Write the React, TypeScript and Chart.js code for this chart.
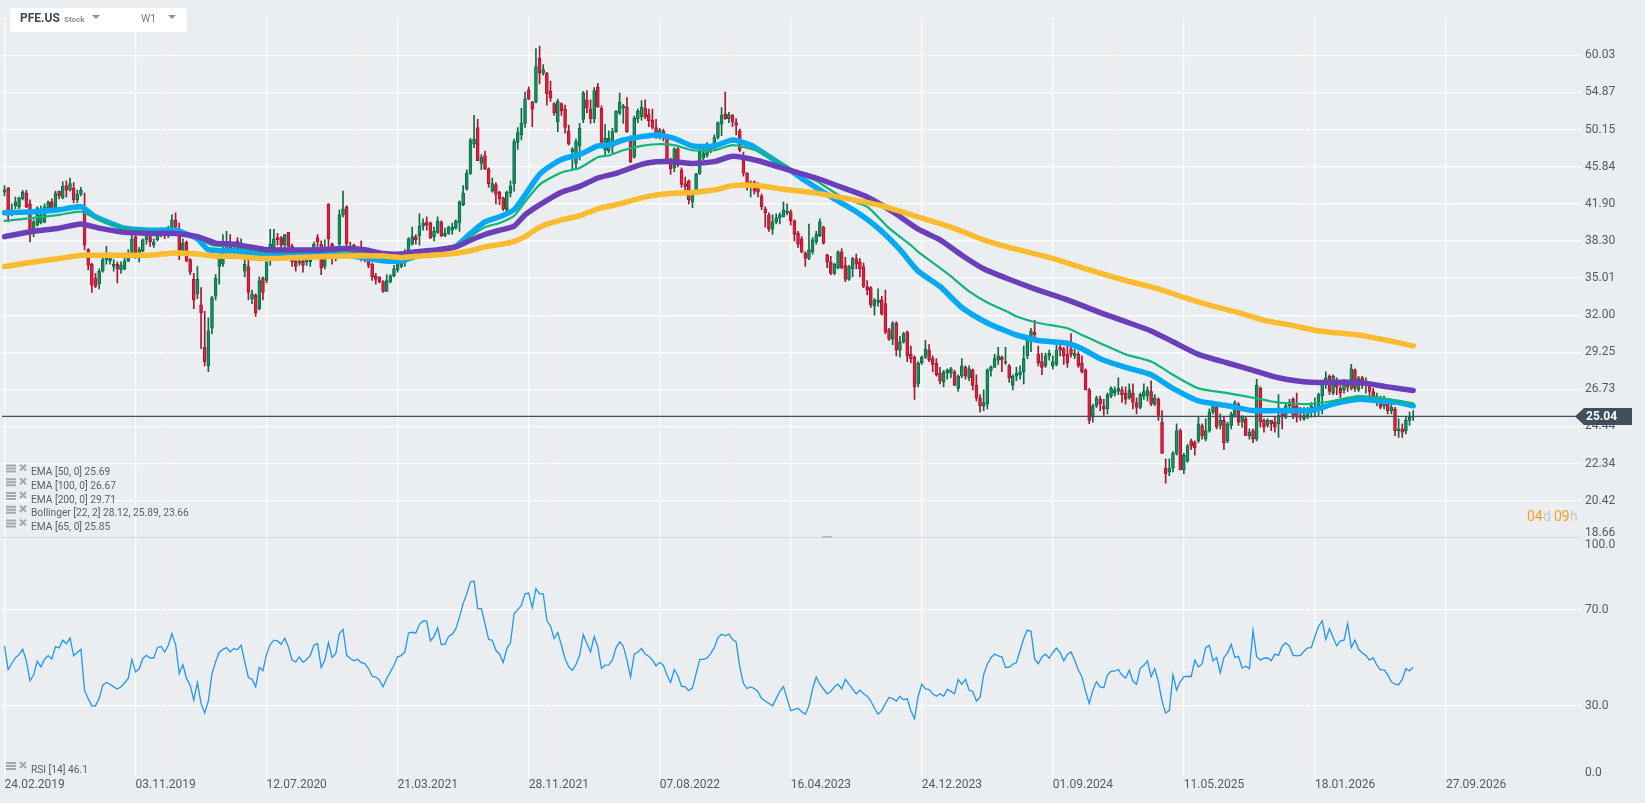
import React, { useEffect, useRef } from "react";
import { Chart, registerables } from "chart.js";

Chart.register(...registerables);

const openP = [
43.1,43.5,41,41.7,41.6,42.4,43,41.9,39.4,39.8,
40,40.1,41.3,42.1,41.4,43.2,42.5,43.8,43.3,43.5,
42.3,42.9,41.2,37.5,36.2,35,34.5,35.6,36.6,36.5,
36,36.2,35.7,35.8,36.5,36.9,38.7,36.9,37.4,38.4,
38.7,37.9,38.4,38.9,39.1,38.9,39.4,40.3,39.2,37.4,
38.2,36.6,34.9,33.7,32.8,29.6,28.3,31,33.5,36,
36.2,37.2,37.7,37.2,38.3,37.2,35.6,36,33.3,33.6,
32.5,35,34.8,36.5,37.7,38.6,38.6,37.9,39.1,37.8,
36.5,36.3,36.5,36.4,36.4,37.4,38.6,38,36,41.9,
38,37,38,40.8,41.6,37.6,37.9,37.2,37,37.1,
36.9,36.2,35.2,35.1,34.7,33.9,34.7,35.2,35.7,36,
36.6,37.4,38,38.7,38.8,39.7,40.1,40,38.7,39.1,
40.1,38.8,39,39.3,39.5,40,41.8,43.4,45.1,48.4,
50.4,46.2,47.1,45.6,43.2,43.9,43.1,42.5,41.3,43,
44,48.6,49.5,50.9,55.2,53.6,53.6,59.6,57.5,57.5,
55,53.4,51.1,53.4,52.7,50,47.5,46.2,48.2,51.4,
53.9,52.7,51.5,55.6,52.8,47.7,47.6,48.1,49.9,52.2,
52.8,53,49,46.9,51.5,51.7,52.8,52,51.3,50.4,
49.3,50,49.1,46.7,45.7,47.9,45.5,44,44.3,42.1,
43.2,45.1,46.8,47.1,48,47.9,49.2,50.8,52.1,51.5,
51.9,51,50,46.6,45.1,43.8,44.2,44,42.7,41.4,
40.8,39.4,40.1,40.5,40.6,41,41.1,40.2,39,38.5,
37.2,36.7,37.3,38.2,38.8,39.6,37,36.4,35.4,35.9,
37.3,36.1,34.9,35.8,36.7,36.4,36,34.3,34.2,32.7,
33,33.2,32.9,30.9,30.2,31.4,29.4,30,30.7,29.1,
28.9,27.1,28.5,28.9,29.4,28.8,28.5,27.8,27.2,27.8,
27.8,27.9,26.8,27.6,28.2,27.5,28,27,26.2,25.7,
25.8,28,28.2,28.7,28.9,28.5,28.3,27,27.6,27.7,
27.9,29,30,30.7,29.1,28.6,28.3,29,28.3,28.4,
29.6,29.5,29.1,29.5,29,29.1,28.5,28,26.7,25,
25.7,26.1,25.7,25.5,26.3,26.5,26.6,26.7,26.5,26.2,
26.5,25.9,25.6,26.3,26.3,26.6,25.8,26.1,24.7,22.1,
21.9,22.1,22.9,24.2,22,22.5,23.6,23.5,23.6,24.5,
23.7,24.2,25.3,25.6,24.5,24.8,23.6,24.5,25.1,25.8,
24.7,24.9,23.9,24.2,23.7,26.8,24.8,24.5,24.8,24.7,
24.6,25.2,25,25.7,26.1,25.7,25.1,24.9,25,25.3,
25.4,25.6,26.3,27.1,27.6,26.5,27.3,26.8,26.7,27,
26.8,28,26.7,27.5,27,27.1,26.6,26.2,26.2,25.7,
25.9,25.4,25.5,24.2,24.3,24.2,24.8,25,
];

const closeP = [
43.35,41.2,41.3,42.1,42.5,43.1,41.6,39.4,40.1,41.5,
40.8,41.6,42.1,41.4,43,42.7,43.7,43.3,44,42.3,
42.9,43.3,37.9,36.1,34.4,34.3,35.6,36.6,36.9,36.8,
36.2,35.8,36.1,36.5,37,38.5,37.1,37.5,38.4,38.7,
38.2,38.2,38.9,39.1,38.9,39.5,40.3,39.6,37.5,38.1,
36.5,35.5,33.2,34.9,32.2,28.6,30.8,33.4,35,36.8,
37.2,37.8,37.2,37.6,37.2,38.1,36.2,33.8,33.7,32.2,
34.8,33.8,36.4,38,38.5,38.4,37.9,38.9,37.8,36.4,
36,36.5,36.1,36.8,36.8,38,38.2,35.9,36.6,38.5,
36.9,37.5,40.8,41.4,38,37.3,37.2,37.5,36.7,36.8,
36.1,35.1,34.9,34.7,33.9,34.8,35.2,35.8,36.4,36.4,
37.3,38.5,38.7,38.4,39.7,40,39.8,38.6,39.2,40.2,
38.8,39,39.6,39.6,40.2,42.1,43,45.1,48.9,49,
46.5,46.9,45.6,44,44,42.9,42.4,41.4,43.1,43.7,
48.7,49.8,50.9,54,54,52.7,58.4,57.5,58,54.7,
54.1,52.2,53.7,52.5,50.4,48.4,47.8,48.7,50.3,54.8,
52.8,51.5,55.1,53,48.6,49.1,49.1,49.9,52.4,53.6,
53.1,49.9,46.4,51.6,52.4,53,51.7,51.2,50.4,49.3,
50.1,49.2,46.7,45.6,47.8,46,43.9,43.7,42.3,43,
45,47.6,47.4,48,47.6,49.2,51,51.9,51.5,52,
51.1,50.7,47.7,45.1,43.9,44.1,43.2,43.1,41.6,41,
39.4,40.1,40.5,40.8,41.3,41.2,40.2,38.9,38,37.3,
36.7,37.5,38.4,38.9,40.1,38.1,36.4,35.4,36.2,37.3,
35.9,34.9,36,36.7,36.2,35.8,34.3,34,32.8,33.2,
33.2,32.1,30.7,30.2,31.4,29.4,30,30.6,29,28.8,
26.9,28.5,28.9,29.5,28.7,28.4,27.7,27.3,27.9,28,
28.1,27,27.6,28.3,27.6,28.1,27,26.2,25.7,25.9,
28,28.2,28.8,29,28.7,28.6,27.5,27.6,27.8,27.9,
28.8,30.1,30.8,30.5,28.5,28.2,29,29.2,28.6,29.4,
29.4,29,28.5,29.1,29.2,28.3,27.9,26.7,24.8,25.7,
26.2,25.8,25.5,26.4,26.8,26.7,26.8,26.4,26.1,26.7,
25.9,25.6,26.4,26.6,26.7,25.8,26.2,25.1,22.9,21.8,
22.1,22.9,24.2,22,22.8,23.3,23.3,23.2,24.6,23.9,
24.2,25.3,25.7,24.4,24.8,23.5,24.6,25.2,25.9,24.7,
25,23.9,24.1,23.7,27,24.7,24.4,24.8,24.6,24.4,
25.1,25,25.7,25.9,25.1,25,25,25.1,25.2,25.7,
25.6,26.4,27.2,27.5,26.6,27.6,26.9,26.5,27.2,26.9,
28.1,26.8,27.5,27,27.2,26.6,26.3,26.3,25.6,25.9,
25.4,25.6,24.2,24.3,24.1,24.8,25,25.04,
];

const highP = [
43.8,43.6,41.9,42.6,42.6,43.3,43.3,42.3,40.3,41.6,
41.7,41.9,42.2,42.4,43.2,43.2,44.2,44.3,44.6,44.1,
43.3,43.6,43,37.6,36.3,35.4,35.8,37.1,37.8,37.2,
36.6,36.4,36.4,37,37.5,39,38.8,37.7,38.5,39,
38.9,38.5,39.1,39.5,39.3,39.7,40.8,41,40,38.5,
38.3,36.7,35.4,36,34.2,32.3,31.8,33.5,35.3,37.5,
38.9,39.2,38.9,38,38.6,38.5,36.6,36.8,34,33.7,
35.1,35.1,36.4,39.4,39.4,39,38.7,38.9,39.1,38,
37.2,37,36.7,37,37,38.2,38.9,38.3,38.4,41.9,
38.1,37.7,41.3,43.2,41.7,38.2,38,37.7,38.3,37.5,
37,36.3,35.4,35.1,34.8,35.3,35.3,36.1,36.8,37.3,
37.5,38.6,39.6,38.9,40.9,40.4,40.6,40.1,39.6,40.6,
40.2,39.5,39.7,40,40.3,42.2,43.8,45.5,49.1,51.9,
51.4,47.2,47.6,45.7,44.6,44.1,43.2,42.6,43.2,44.3,
49,50.4,52.8,54.9,55.6,53.7,61,61.4,58.7,57.6,
56.4,53.5,54,53.5,53.2,50.7,48,49,50.9,55,
55.1,53.9,55.5,56.1,53.1,50.8,50,50.3,52.5,54.8,
53.3,54.2,49.4,51.8,52.7,53.8,53.9,52.7,52.7,51.4,
50.3,50.2,49.2,46.8,48,48,45.7,44.7,44.4,43.2,
45.1,48,48.4,48.6,48.2,49.5,51.1,52.9,54.9,52.3,
52,51.5,50.2,47.5,45.2,44.3,44.3,44.1,42.9,41.6,
41,40.8,40.9,41,42.1,41.9,41.3,40.3,39.2,38.7,
37.3,39.9,38.6,39.2,40.4,39.7,37.1,36.9,36.3,37.4,
37.6,36.8,36.1,36.8,37.1,36.7,36.3,34.8,34.3,33.3,
34.1,33.5,34,31,31.5,31.5,30.4,30.7,30.8,29.7,
29,28.6,29,30.1,29.8,29,28.8,28.2,28,28.1,
28.2,28,27.7,28.8,28.3,28.3,28.1,27.7,26.4,26.7,
28.1,28.3,29.1,29.6,29,29.6,28.4,27.7,28.2,28.3,
29.7,30.3,31,31.6,29.7,29.2,29.2,29.4,29,29.8,
30,29.6,29.7,30.6,29.5,29.3,29,28.1,26.8,25.8,
26.3,26.3,26.1,26.5,26.9,26.9,27.5,26.9,26.9,27.1,
27.1,26.2,26.5,27.1,26.9,27.3,26.4,26.2,25.4,22.6,
22.6,23,24.6,24.3,22.9,23.4,23.7,23.6,25,24.6,
24.9,25.5,25.9,25.9,25.2,25,24.7,25.3,26,25.9,
25.1,25,24.3,24.3,27.4,26.9,24.9,24.9,24.8,25,
26.4,25.5,25.9,26.1,26.2,26.5,25.6,25.6,25.6,25.9,
26.2,26.5,27.3,27.9,27.7,27.7,27.5,27.3,27.4,27.1,
28.4,28.1,27.6,27.6,27.5,27.2,26.8,26.5,26.3,26.3,
26.1,25.8,25.6,24.9,24.6,25,25.3,25.4,
];

const lowP = [
42.7,40.1,40.7,41.4,41.4,42.3,41.5,38.2,38.7,39.7,
39.9,40,41.1,41.1,41.3,42.4,42.4,42.6,43.2,42,
42,42.7,37.5,35.7,33.8,34.2,34.1,35.5,36.2,36.2,
35.6,34.6,35.4,35.7,36.4,36.8,36.7,36.4,37.3,38,
37.8,37.7,38.3,38.7,38.5,38.6,39.2,39.4,36.6,37,
36.4,35.3,32.5,33.3,29.5,28.3,27.9,30.6,33.2,34.5,
36,37,37,36.9,36.8,36.9,35.1,33.2,32.9,31.9,
32.4,33.2,34.6,36.1,37.5,37.9,37.6,37.7,37.7,36,
35.6,36.1,35.5,36.1,36,36.7,37.6,35.3,35.8,37.5,
36.2,36.5,37.8,40.6,37.6,37,36.8,36.8,36.5,36.4,
35.9,34.8,34.5,34.6,33.8,33.9,34.6,35.1,35.5,35.9,
36,37.3,37.9,38,37.9,39.3,39.3,38.5,38.3,39,
38.7,38.7,38.9,38.9,39.4,39.2,41.7,43.3,45,48,
46.5,45.5,45.5,43.6,43.1,41.9,41.8,41.2,41.1,42.6,
43.2,47.8,48.9,50.4,53.9,50.5,53.5,56,57.2,53.2,
53.7,51.9,49.9,51.9,49.7,48.3,45.6,45.6,46.6,51,
52.2,50.9,51,52.9,48.4,47.1,47.4,47.4,49.8,52,
50.9,49.8,46.3,46.8,51,51.3,51.5,50.5,50.2,49.1,
49,48.8,46.6,45,45.3,45.8,43.6,43.2,41.9,41.5,
43,45,46.6,46.9,47.4,47.7,49,49.4,51.4,51,
50.5,49.5,47.5,44.8,43.3,42.6,42.9,42.6,41.3,39.6,
39.2,38.9,39.9,39.9,40.6,40.8,39.8,38.3,37.7,37.2,
36,36.6,37.1,38,38.7,38,35.9,35.3,35.3,35.8,
35.8,34.7,34.8,35.1,35.8,35.1,34.2,33.6,32.6,32,
32.7,32,30.6,30.1,29.8,29,28.9,29.9,28.6,28.5,
26.1,26.9,28.4,28.8,28.6,27.9,27.6,27.1,26.9,27.4,
27.5,27,26.6,27.5,27.4,27.3,26.7,26,25.3,25.4,
25.5,27.6,28.2,28.4,27.9,28.4,27.2,26.7,27.3,27.4,
27.1,28.8,29.3,30.2,28.3,27.7,28.2,28.7,28.1,28.3,
29,28.4,28.2,28.9,28.8,28.2,27.8,26.7,24.6,24.7,
25.6,25.4,25.1,25.2,26.2,26.3,26.4,25.9,25.8,26.1,
25.5,25.2,25.5,26.1,26,25.7,25.7,24.8,22.9,21.3,
21.7,21.9,22.8,22,21.8,22.4,23.1,22.8,23.5,23.7,
23.6,24.1,25.2,24.3,24.3,23.1,23.5,24.3,25,24.5,
24.4,23.9,23.7,23.5,23.6,24.4,24.1,24.4,24.2,24.1,
23.8,24.3,24.9,25.4,24.9,24.7,24.8,24.8,24.9,25,
25,25.1,25.2,26.8,26.4,26.4,26.4,26.2,26.5,26.6,
26.7,26.6,26.6,26.8,26.5,26.3,26.2,25.7,25.5,25.5,
25.2,25.2,23.9,23.8,23.8,24,24.5,24.8,
];

const rsiValues = [
54.8,45.1,47.6,50,51.3,53.5,48.7,40.4,42.8,48.6,
46.2,49.4,50.9,49.5,54.6,54.1,57.3,55.8,58.2,50.8,
52.2,53.5,36.3,33,30,30,33,38.6,39.7,39,
37.9,37,37.9,39.6,41.4,49.3,44.1,45.4,49.7,51,
49.9,49.9,54.2,54.8,52.4,55.2,60,55.6,43.4,47.2,
41.4,38.6,32.4,39.7,31,27,32,43.4,48.3,52.2,
53.5,54.2,52.4,53.8,53.4,55.2,48.3,41.8,41.1,37.9,
46,44.6,51.5,55.5,57.3,57,55.6,58.1,54.5,49,
48.3,50.4,48.1,49.3,51,55.2,55.9,45.9,49,56.3,
50.1,51.7,60,61.8,51,49.7,48.7,49.4,48,47.6,
45.5,42.3,42,40.7,37.9,41.4,44.1,46.9,50.4,50.9,
52.4,60.3,60.6,60.3,63.9,65.3,65.2,57,58.9,62.5,
55.5,55.6,58.9,59.8,62.1,67,72.5,76.6,81.5,81.9,
70.4,70.4,64.2,57.6,57.3,53.1,51.5,48,53.8,56.2,
68.3,70,71.8,76.6,76.9,70.8,78.7,76.6,76.6,65.6,
63.2,58,60.5,55.2,49.7,46.2,44.8,47.2,51,59.6,
55.9,52.4,58.8,54.5,45.5,46.9,47,49,54.1,56.6,
54.8,49,42,51.5,52.4,53.8,51.5,50.6,49,46.6,
48.1,46.9,42.8,39.7,45.1,42.5,38.2,37.9,36.3,37.5,
43.4,49.3,49.3,49.9,51.7,54.2,58.4,59.8,59.1,59.8,
57.6,56.6,46.2,39.3,37.2,37.9,37.2,35.9,33,32,
31,30,33,36,38,33,28,28.5,29,27.5,
26.5,30,37,42,39,37,35,36,38,39,
37,41,39,37,35,36.5,35,34,32,29,
26.5,28,31,33.5,33,32,34,32.5,33,28,
24.6,34,39,37,36.8,35,34,35,34,36.8,
36,35,41,38.9,41.1,36.5,36,32,33.5,43,
47.3,50,51.5,50.8,50.4,46,46,47.3,48,53,
58,61.5,61,49.5,47.5,50.3,51.5,49.8,52.2,54,
52.2,48.7,51.5,52.4,49,45,42,36,31,36.5,
40,37.9,37.5,42.8,44.4,44.4,45.1,42.8,41.6,44.8,
40.3,39,45.5,46.9,48.7,42.1,45.5,40,32,27,
28,43,36.5,40,42.1,42.3,42.1,49,46.2,47.5,
54.2,55.2,48.7,50.1,43.7,50.1,52,55.6,50.1,50.6,
45.8,46.5,45.4,61.4,50.4,49,49.8,49.9,48.7,51.5,
51,54.8,56.2,54.8,51,50.8,51,52.7,54.1,54.2,
58.7,63.1,65.3,57.6,62.1,58.4,54.9,57,57.3,64.2,
54.2,57.3,53.5,52,51,49,50,47,45,45,
43,40,39,38.8,41,45.5,44.5,46.1,
];

const blueWeeks = [0,8,15,21,25,33,40,47,53,56,63,70,80,94,104,109,113,119,124,128,132,136,140,143,147,151,154,158,163,166,170,175,179,184,189,195,200,205,207,216,220,228,234,240,246,251,257,263,270,276,278,284,292,296,301,308,315,321,328,336,343,350,359,365,372,378,383,387];
const blueValues = [41,41.1,41.3,41.6,40.6,39.5,39.3,39.3,38.5,37.5,37.4,37.1,37.1,37,36.5,36.5,36.9,37.4,37.8,39,40.1,40.6,41.3,42.8,45,46.2,46.8,47.2,48.2,48.3,48.9,49.3,49.5,49.1,48.2,48.2,48.9,48.3,47.8,45.4,44.3,42.4,41.1,39.5,37.5,35.6,34.3,32.6,31.4,30.7,30.5,30.1,29.9,29.5,28.8,28.2,27.7,26.8,26,25.7,25.4,25.4,25.4,25.8,26.1,26,25.9,25.69];

const greenWeeks = [0,8,15,21,26,33,40,47,53,57,63,70,72,86,99,104,109,113,119,124,128,132,136,140,143,147,153,158,163,166,170,175,179,184,189,195,200,207,217,223,230,237,243,249,251,259,265,270,276,278,284,292,296,301,308,315,321,328,336,343,350,359,365,372,378,383,387];
const greenValues = [40.2,40.5,40.8,41.1,40.3,39.5,39.2,39.1,38.6,37.9,37.8,37.3,37.3,37.3,37.3,36.8,36.7,36.9,37.4,37.75,38.7,39.6,40,40.7,42.1,43.9,45.2,45.7,46.9,47.1,47.7,48.2,48.4,48.3,47.7,47.7,48.3,47.6,45.4,44.3,42.6,41.6,39.5,37.9,37.3,35.4,33.9,33,32.2,31.9,31.4,31,30.5,29.9,29.1,28.6,27.7,26.8,26.5,26.2,25.9,25.8,26,26.3,26.2,26,25.85];

const purpleWeeks = [0,8,15,21,26,33,40,47,53,58,63,70,72,86,93,99,104,109,113,119,124,128,132,136,140,143,147,153,158,163,168,175,179,184,189,195,200,207,216,223,230,237,244,251,257,263,269,276,283,292,301,308,315,321,328,336,343,350,359,372,380,387];
const purpleValues = [38.7,39.2,39.5,39.9,39.5,39.1,39,39,38.7,38.1,38,37.6,37.5,37.47,37.6,37.5,37.15,37.1,37.3,37.5,37.75,38.36,38.9,39.3,39.7,40.8,41.8,43.1,43.7,44.6,45.1,46.1,46.4,46.4,46.2,46.4,47,46.5,45.4,44.6,43.6,42.6,41.1,39.4,38.4,37,35.8,34.9,34.1,33.2,32.2,31.5,30.8,30,29.1,28.5,28,27.5,27.2,27.2,26.9,26.67];

const orangeWeeks = [0,8,15,21,26,40,47,53,58,63,70,77,93,104,109,113,122,128,132,139,143,147,153,158,163,168,175,179,185,190,196,200,207,214,223,232,241,250,260,269,276,287,298,308,317,324,332,339,346,354,361,372,380,387];
const orangeValues = [36,36.4,36.7,37,37,37,37.2,37.1,36.9,36.9,36.7,36.74,36.92,36.92,36.8,36.9,37.1,37.4,37.75,38.15,38.7,39.6,40.3,40.7,41.4,41.8,42.5,42.8,43,43.1,43.4,43.8,43.8,43.4,43,42.4,41.7,40.7,39.6,38.4,37.7,36.8,35.7,34.8,34.1,33.4,32.7,32.2,31.6,31.2,30.8,30.5,30.1,29.71];

const priceTicks = [60.03,54.87,50.15,45.84,41.9,38.3,35.01,32,29.25,26.73,24.44,22.34,20.42];
const rsiTicks = [70,30];
const dateTickWeeks = [0,36,72,108,144,180,216,252,288,324,360,396];
const dateTickLabels = ["24.02.2019","03.11.2019","12.07.2020","21.03.2021","28.11.2021","07.08.2022","16.04.2023","24.12.2023","01.09.2024","11.05.2025","18.01.2026","27.09.2026"];
const yearBreakWeeks = [44.6,96.6,148.5,200.2,253.4,305.4,357.3];
const legendRows = ["EMA [50, 0] 25.69","EMA [100, 0] 26.67","EMA [200, 0] 29.71","Bollinger [22, 2] 28.12, 25.89, 23.66","EMA [65, 0] 25.85"];
const rsiLegend = "RSI [14] 46.1";
const lastPrice = 25.04;
const weekCount = openP.length;

const UP_FILL = "#16915f", UP_EDGE = "#0c6b45", DOWN_FILL = "#e11f3f", DOWN_EDGE = "#a8172f";
const FONT = "Roboto";

function points(xs: number[], ys: number[]) {
  return xs.map((x, i) => ({ x, y: ys[i] }));
}

function emaDataset(label: string, xs: number[], ys: number[], color: string, width: number, order: number) {
  return {
    type: "line" as const, label, data: points(xs, ys), yAxisID: "y", xAxisID: "x", order,
    borderColor: color, borderWidth: width, pointRadius: 0, tension: 0.2,
    borderCapStyle: "round" as const, borderJoinStyle: "round" as const,
  };
}

const overlay = {
  id: "overlay",
  beforeDatasetsDraw(chart: any) {
    const { ctx, chartArea, scales } = chart;
    ctx.save();
    ctx.strokeStyle = "#f0ecec";
    ctx.lineWidth = 2;
    yearBreakWeeks.forEach((w) => {
      const x = scales.x.getPixelForValue(w);
      ctx.beginPath();
      ctx.moveTo(x, chartArea.top);
      ctx.lineTo(x, chartArea.bottom);
      ctx.stroke();
    });
    ctx.strokeStyle = "#d6d9dc";
    ctx.lineWidth = 1.2;
    ctx.beginPath();
    ctx.moveTo(chartArea.left, 537.5);
    ctx.lineTo(chartArea.right, 537.5);
    ctx.stroke();
    ctx.restore();
  },
  afterDraw(chart: any) {
    const { ctx, chartArea, scales } = chart;
    const text = (s: string, x: number, y: number, font: string, color: string) => {
      ctx.font = font;
      ctx.fillStyle = color;
      ctx.textAlign = "left";
      ctx.textBaseline = "middle";
      ctx.fillText(s, x, y);
    };
    const icons = (y: number) => {
      ctx.fillStyle = "#a3a8ad";
      ctx.fillRect(6, y - 5, 10, 2);
      ctx.fillRect(6, y - 2, 10, 2);
      ctx.fillRect(6, y + 1, 10, 2);
      ctx.strokeStyle = "#a3a8ad";
      ctx.lineWidth = 2;
      ctx.beginPath();
      ctx.moveTo(20, y - 5);
      ctx.lineTo(26, y + 1);
      ctx.moveTo(26, y - 5);
      ctx.lineTo(20, y + 1);
      ctx.stroke();
    };
    ctx.save();

    // last-price line and flag
    const py = scales.y.getPixelForValue(lastPrice);
    ctx.strokeStyle = "#3f4f5b";
    ctx.lineWidth = 1.2;
    ctx.beginPath();
    ctx.moveTo(chartArea.left, py);
    ctx.lineTo(1580, py);
    ctx.stroke();
    ctx.fillStyle = "#3f4f5b";
    ctx.beginPath();
    ctx.moveTo(1575, py);
    ctx.lineTo(1584, py - 8.5);
    ctx.lineTo(1632, py - 8.5);
    ctx.lineTo(1632, py + 8.5);
    ctx.lineTo(1584, py + 8.5);
    ctx.closePath();
    ctx.fill();
    text(lastPrice.toFixed(2), 1586, py + 0.5, `bold 12px ${FONT}`, "#ffffff");

    // bound labels sit inside their panels
    const axisFont = `12px ${FONT}`;
    text("18.66", 1585, 533, axisFont, "#555b60");
    text("100.0", 1585, 545, axisFont, "#555b60");
    text("0.0", 1585, 773, axisFont, "#555b60");

    // panel separator handle
    ctx.fillStyle = "#b9bdc1";
    ctx.fillRect(822, 536, 10, 2);

    // countdown
    const cy = 517;
    const cf = `14px ${FONT}`;
    text("04", 1527, cy, cf, "#ff9d1e");
    text("d", 1543, cy, cf, "#c3c7cb");
    text("09", 1554, cy, cf, "#ff9d1e");
    text("h", 1570, cy, cf, "#c3c7cb");

    // indicator legends
    legendRows.forEach((row, i) => {
      const y = 471.5 + i * 13.75;
      icons(y - 2);
      text(row, 31, y + 1, `10.2px ${FONT}`, "#5a6066");
    });
    icons(767);
    text(rsiLegend, 31, 770, `10.2px ${FONT}`, "#5a6066");

    // instrument toolbar
    ctx.fillStyle = "#ffffff";
    ctx.beginPath();
    ctx.roundRect(10, 8, 177, 24, [3, 3, 0, 0]);
    ctx.fill();
    text("PFE.US", 20, 19, `bold 12px ${FONT}`, "#3c4a55");
    text("Stock", 64, 19.5, `bold 8px ${FONT}`, "#8b9095");
    text("W1", 141, 19.5, `10.5px ${FONT}`, "#777c81");
    [[92, 15], [168, 15]].forEach(([x, y]) => {
      ctx.fillStyle = "#8b9095";
      ctx.beginPath();
      ctx.moveTo(x, y);
      ctx.lineTo(x + 8, y);
      ctx.lineTo(x + 4, y + 4);
      ctx.closePath();
      ctx.fill();
    });
    ctx.restore();
  },
};

export default function App() {
  const ref = useRef<HTMLCanvasElement | null>(null);
  useEffect(() => {
    document.documentElement.style.background = "#ebeef1";
    document.body.style.margin = "0";
    document.body.style.background = "#ebeef1";
    const idx = Array.from({ length: weekCount }, (_, i) => i);
    const isUp = (i: number) => closeP[i] >= openP[i];
    const chart = new Chart(ref.current as HTMLCanvasElement, {
      type: "bar",
      plugins: [overlay],
      data: {
        datasets: [
          {
            type: "bar", label: "Wicks", yAxisID: "y", xAxisID: "x", order: 7, grouped: false,
            data: idx.map((i) => ({ x: i, y: [lowP[i], highP[i]] })),
            backgroundColor: idx.map((i) => (isUp(i) ? UP_EDGE : DOWN_EDGE)),
            barThickness: 1,
          },
          {
            type: "bar", label: "Bodies", yAxisID: "y", xAxisID: "x", order: 6, grouped: false,
            data: idx.map((i) => ({ x: i, y: [Math.min(openP[i], closeP[i]), Math.max(openP[i], closeP[i])] })),
            backgroundColor: idx.map((i) => (isUp(i) ? UP_FILL : DOWN_FILL)),
            borderColor: idx.map((i) => (isUp(i) ? UP_EDGE : DOWN_EDGE)),
            borderWidth: 1, borderSkipped: false, barThickness: 3,
          },
          emaDataset("EMA 50", blueWeeks, blueValues, "#03a9f4", 5.5, 5),
          emaDataset("EMA 65", greenWeeks, greenValues, "#10b57c", 2.2, 4),
          emaDataset("EMA 100", purpleWeeks, purpleValues, "#6a3fb8", 5.5, 3),
          emaDataset("EMA 200", orangeWeeks, orangeValues, "#fdbb2f", 5.5, 2),
          {
            type: "line", label: "RSI", yAxisID: "rsi", xAxisID: "x", order: 1,
            data: idx.map((i) => ({ x: i, y: rsiValues[i] })),
            borderColor: "#2196f3", borderWidth: 1.3, pointRadius: 0, tension: 0,
          },
        ],
      } as any,
      options: {
        responsive: false,
        animation: false,
        devicePixelRatio: 1,
        events: [],
        layout: { autoPadding: false, padding: { left: 2, top: 18, right: 0, bottom: 0 } },
        plugins: { legend: { display: false }, tooltip: { enabled: false }, title: { display: false } },
        scales: {
          x: {
            type: "linear", min: -0.687, max: 433.1, offset: false,
            grid: { color: "#ffffff", lineWidth: 1.2, drawTicks: false, offset: false },
            border: { display: false },
            afterBuildTicks: (s: any) => { s.ticks = dateTickWeeks.map((value) => ({ value })); },
            afterFit: (s: any) => { s.height = 25; },
            ticks: {
              autoSkip: false, maxRotation: 0, minRotation: 0, align: "start", padding: 0, labelOffset: 0,
              color: "#555b60", font: { family: FONT, size: 12 },
              callback: (_v: any, i: number) => dateTickLabels[i],
            },
          },
          y: {
            type: "logarithmic", position: "right", stack: "panels", stackWeight: 519.5,
            min: 18.68, max: 65.7,
            grid: { color: "#ffffff", lineWidth: 1.2, drawTicks: false },
            border: { display: false },
            afterBuildTicks: (s: any) => { s.ticks = priceTicks.map((value) => ({ value })); },
            afterFit: (s: any) => { s.width = 64; },
            ticks: {
              autoSkip: false, padding: 4, color: "#555b60", font: { family: FONT, size: 12 },
              callback: (v: any) => Number(v).toFixed(2),
            },
          },
          rsi: {
            type: "linear", position: "right", stack: "panels", stackWeight: 240.5,
            min: 0, max: 100,
            grid: { color: "#ffffff", lineWidth: 1.2, drawTicks: false },
            border: { display: false },
            afterBuildTicks: (s: any) => { s.ticks = rsiTicks.map((value) => ({ value })); },
            afterFit: (s: any) => { s.width = 64; },
            ticks: {
              autoSkip: false, padding: 4, color: "#555b60", font: { family: FONT, size: 12 },
              callback: (v: any) => Number(v).toFixed(1),
            },
          },
        },
      } as any,
    });
    return () => chart.destroy();
  }, []);
  return (
    <div style={{ position: "absolute", left: 0, top: 0, width: 1645, height: 803, background: "#ebeef1" }}>
      <canvas ref={ref} width={1645} height={803} style={{ display: "block" }} />
    </div>
  );
}
